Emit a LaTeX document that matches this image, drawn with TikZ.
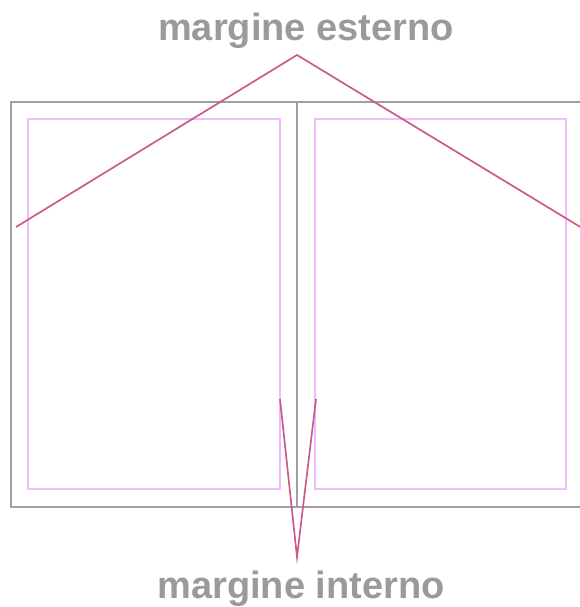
\documentclass[tikz,border=0pt]{standalone}
\usepackage{fontspec}
\setmainfont{Liberation Sans}
\definecolor{labelgray}{HTML}{9A9A9A}
\definecolor{pagegray}{HTML}{A0A0A0}
\definecolor{shadowgray}{HTML}{858585}
\definecolor{guide}{HTML}{C95A8E}
\definecolor{marginv}{HTML}{F0BCFF}
\tikzset{
  label/.style={font=\fontsize{38}{40}\selectfont\bfseries, text=labelgray, inner sep=0pt},
  pageline/.style={draw=pagegray, line width=1.2pt},
  marginbox/.style={draw=marginv, line width=1.3pt},
  guideline/.style={draw=guide, line width=1.7pt},
}
\begin{document}
\begin{tikzpicture}[x=1pt,y=-1pt]
\useasboundingbox (0,0) rectangle (580,607);
\begin{scope}
\clip (0,0) rectangle (580,607);
\draw[shadowgray, line width=2.5pt] (12,507) -- (590,507);
\draw[pageline] (590,102) -- (11,102) -- (11,507) -- (590,507);
\draw[pageline] (297,102) -- (297,507);
\end{scope}
\draw[marginbox] (28,119) rectangle (280,489);
\draw[marginbox] (315,119) rectangle (566,489);
\node[label] (est) at (306,31) {margine esterno};
\node[label] (int) at (301,589) {margine interno};
\coordinate (et) at (297,55);
\coordinate (el) at (16,227);
\coordinate (er) at (582,228);
\coordinate (ib) at (297,557);
\coordinate (il) at (280,399);
\coordinate (ir) at (316,399);
\draw[guideline] (el) -- (et) -- (er);
\draw[guideline] (il) -- (ib) -- (ir);
\end{tikzpicture}
\end{document}
